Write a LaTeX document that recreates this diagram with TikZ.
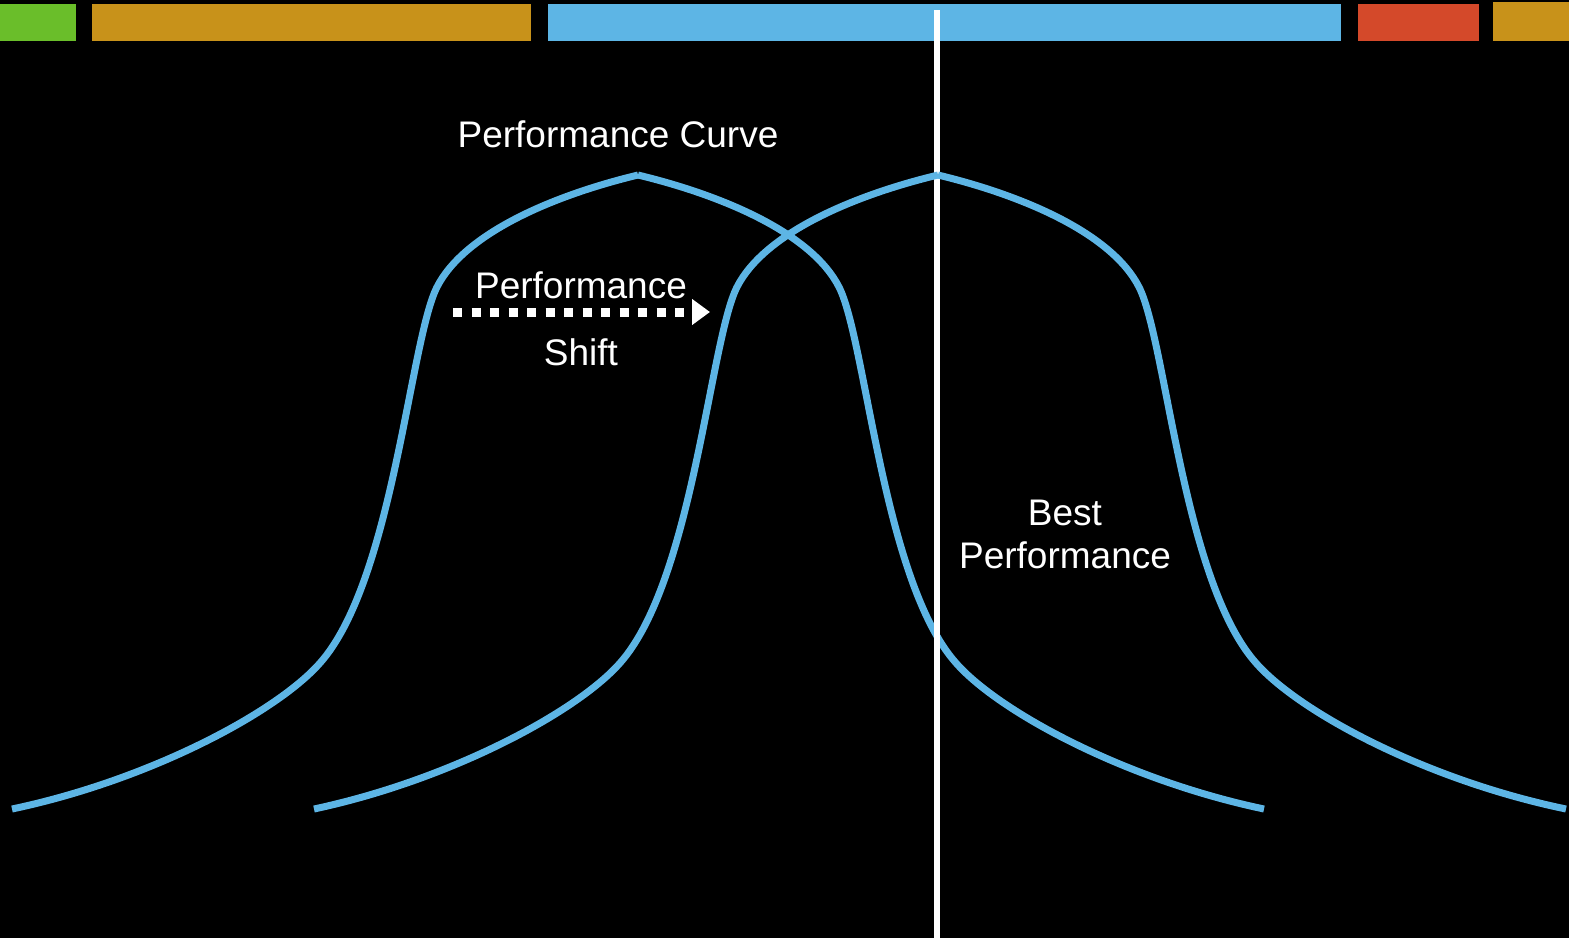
\documentclass[tikz,border=0pt]{standalone}
\usepackage{fontspec}
\setmainfont{Liberation Sans}
\usetikzlibrary{arrows.meta}
\definecolor{perfblue}{HTML}{5DB5E5}
\definecolor{bargreen}{HTML}{6ABE2A}
\definecolor{bargold}{HTML}{C8921A}
\definecolor{barred}{HTML}{D4492A}
\begin{document}
\begin{tikzpicture}[x=1pt,y=1pt,
		curve/.style={perfblue,line width=7pt},
		label/.style={white,font=\fontsize{37}{43}\selectfont,align=center}]
		\tikzstyle{every node}+=[inner sep=0pt]
		\useasboundingbox [fill=black] (0,0) rectangle (1569,-938);
		\fill [bargreen] (0,-4) rectangle (76,-41);
		\fill [bargold] (92,-4) rectangle (531,-41);
		\fill [perfblue] (548,-4) rectangle (1341,-41);
		\fill [barred] (1358,-4) rectangle (1479,-41);
		\fill [bargold] (1493,-2) rectangle (1569,-41);
		\draw [curve] (12,-809) .. controls (150,-780) and (277,-712) .. (320,-663) .. controls (393,-581) and (410,-340) .. (437,-287) .. controls (464,-234) and (551,-196) .. (638,-175);
		\draw [curve] (638,-175) .. controls (725,-196) and (812,-234) .. (839,-287) .. controls (866,-340) and (883,-581) .. (956,-663) .. controls (999,-712) and (1126,-780) .. (1264,-809);
		\coordinate (besttop) at (937,-10);
		\coordinate (bestfoot) at (937,-938);
		\draw [white,line width=6pt] (besttop) -- (bestfoot);
		\draw [curve,xshift=300pt] (14,-809) .. controls (150,-780) and (277,-712) .. (320,-663) .. controls (393,-581) and (410,-340) .. (437,-287) .. controls (464,-234) and (551,-196) .. (638,-175);
		\draw [curve,xshift=300pt] (638,-175) .. controls (725,-196) and (812,-234) .. (839,-287) .. controls (866,-340) and (883,-581) .. (956,-663) .. controls (999,-712) and (1126,-780) .. (1266,-809);
		\node [label] (curvename) at (618,-134) {Performance Curve};
		\node [label] (shiftname) at (581,-285) {Performance};
		\node [label] (shiftword) at (581,-352) {Shift};
		\node [label] (bestname) at (1065,-534) {Best\\Performance};
		\coordinate (shiftfrom) at (453,-312);
		\coordinate (shiftto) at (710,-312);
		\draw [white,line width=9pt,dash pattern=on 9pt off 9.5pt,-{Triangle[length=18pt,width=25pt]}] (shiftfrom) -- (shiftto);
	\end{tikzpicture}
\end{document}
